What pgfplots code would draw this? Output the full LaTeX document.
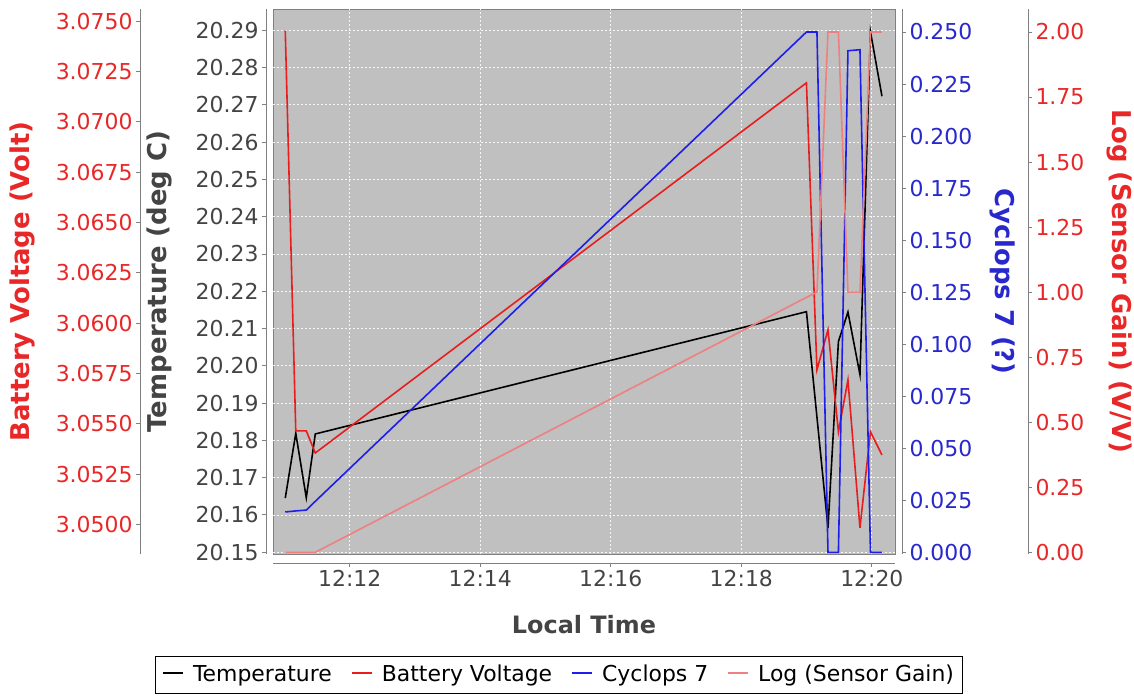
\documentclass[border=0pt]{standalone}
\usepackage{fontspec}
\setmainfont{DejaVu Sans}
\usepackage{pgfplots}
\pgfplotsset{compat=1.18}

\definecolor{plotbg}{RGB}{192,192,192}
\definecolor{axgray}{RGB}{128,128,128}
\definecolor{labgray}{RGB}{68,68,68}
\definecolor{batred}{RGB}{232,30,30}
\definecolor{cycblue}{RGB}{30,30,235}
\definecolor{logpink}{RGB}{238,128,128}
\definecolor{txtred}{RGB}{232,40,40}
\definecolor{txtblue}{RGB}{40,40,205}

\newcommand{\ylabfont}{\bfseries\fontsize{26}{29}\selectfont}
% legend key: a short coloured line
\newcommand{\leg}[1]{\textcolor{#1}{\rule[0.33em]{20bp}{1.5bp}}\hspace{10bp}}

\pgfplotsset{
  base/.style={
    scale only axis, width=622bp, height=545bp,
    at={(0,0)}, anchor=south west,
    xmin=10.824, xmax=20.355,
    scaled ticks=false,
    tick align=outside, major tick length=4bp,
    axis line style={draw=axgray, line width=0.8bp, -},
    every tick/.style={axgray, line width=0.8bp},
    tick label style={font=\fontsize{22}{24}\selectfont},
    label style={font=\bfseries\fontsize{24}{28}\selectfont},
    /pgf/number format/assume math mode=true,
    yticklabel style={/pgf/number format/fixed, /pgf/number format/zerofill,
                      /pgf/number format/1000 sep={}},
  },
  series/.style={line width=1.6bp},
}

\begin{document}
\begin{tikzpicture}
\useasboundingbox (-273bp,-142bp) rectangle (861bp,554bp);

% temperature (left, inner) -- also carries the time axis and the grey plot area
\begin{axis}[base,
  axis x line*=bottom, axis y line*=left,
  axis x line shift=9bp, axis y line shift=7bp,
  ymin=20.1495, ymax=20.2957,
  xtick={12,14,16,18,20},
  xticklabels={12:12,12:14,12:16,12:18,12:20},
  ytick={20.15,20.16,20.17,20.18,20.19,20.20,20.21,20.22,20.23,20.24,20.25,20.26,20.27,20.28,20.29},
  yticklabel style={/pgf/number format/precision=2},
  ticklabel style={text=labgray},
  grid=major,
  major grid style={white!85!plotbg, dash pattern=on 2bp off 2bp, line width=0.7bp},
  axis background/.style={fill=plotbg, draw=axgray, line width=0.8bp},
  xlabel={Local Time}, ylabel={Temperature (deg C)},
  xlabel style={at={(axis description cs:0.5,-0.130)}, anchor=center, text=labgray},
  every axis y label/.style={at={(axis description cs:-0.182,0.5)}, anchor=center, rotate=90,
    text=labgray, font=\ylabfont},
]
\addplot[series, black] coordinates {
  (11.012,20.1645) (11.173,20.1819) (11.334,20.1646) (11.472,20.1817)
  (18.998,20.2145) (19.159,20.1862) (19.328,20.1565) (19.488,20.2065)
  (19.634,20.2144) (19.818,20.1976) (19.979,20.2896) (20.155,20.2723)};
\end{axis}

% battery voltage (left, outer)
\begin{axis}[base,
  axis x line=none, axis y line*=left, axis y line shift=133bp,
  ymin=3.04853, ymax=3.07561,
  ytick={3.0500,3.0525,3.0550,3.0575,3.0600,3.0625,3.0650,3.0675,3.0700,3.0725,3.0750},
  yticklabel style={/pgf/number format/precision=4, text=txtred},
  ylabel={Battery Voltage (Volt)},
  every axis y label/.style={at={(axis description cs:-0.4035,0.5)}, anchor=center, rotate=90,
    text=txtred, font=\ylabfont},
]
\addplot[series, batred] coordinates {
  (11.012,3.07453) (11.173,3.05465) (11.334,3.05465) (11.472,3.05355)
  (18.998,3.07194) (19.159,3.05768) (19.328,3.05967) (19.488,3.05460)
  (19.634,3.05718) (19.818,3.04983) (19.979,3.05460) (20.155,3.05345)};
\end{axis}

% cyclops 7 (right, inner)
\begin{axis}[base,
  axis x line=none, axis y line*=right, axis y line shift=7bp,
  ymin=-0.0008, ymax=0.26106,
  ytick={0,0.025,0.05,0.075,0.1,0.125,0.15,0.175,0.2,0.225,0.25},
  yticklabel style={/pgf/number format/precision=3, text=txtblue},
  ylabel={Cyclops 7 (?)},
  every axis y label/.style={at={(axis description cs:1.1736,0.5)}, anchor=center, rotate=-90,
    text=txtblue, font=\ylabfont},
]
\addplot[series, cycblue] coordinates {
  (11.012,0.0194) (11.173,0.0199) (11.334,0.0203) (11.472,0.0245)
  (18.998,0.2500) (19.159,0.2500) (19.328,0.0000) (19.488,0.0000)
  (19.634,0.2410) (19.818,0.2415) (19.979,0.0000) (20.155,0.0000)};
\end{axis}

% log (sensor gain) (right, outer)
\begin{axis}[base,
  axis x line=none, axis y line*=right, axis y line shift=133bp,
  ymin=-0.0064, ymax=2.0885,
  ytick={0,0.25,0.5,0.75,1,1.25,1.5,1.75,2},
  yticklabel style={/pgf/number format/precision=2, text=txtred},
  ylabel={Log (Sensor Gain) (V/V)},
  every axis y label/.style={at={(axis description cs:1.3617,0.5)}, anchor=center, rotate=-90,
    text=txtred, font=\ylabfont},
]
\addplot[series, logpink] coordinates {
  (11.012,0) (11.173,0) (11.334,0) (11.472,0)
  (18.998,0.98) (19.159,1.00) (19.328,2.00) (19.488,2.00)
  (19.634,1.00) (19.818,1.00) (19.979,2.00) (20.155,2.00)};
\end{axis}

% legend box below the chart
\node[draw=black, line width=0.8bp, inner xsep=8bp, inner ysep=8bp, anchor=north,
      font=\fontsize{22}{26}\selectfont] at (285.5bp,-102bp)
  {\leg{black}Temperature\hspace{20bp}\leg{batred}Battery Voltage\hspace{20bp}%
   \leg{cycblue}Cyclops 7\hspace{20bp}\leg{logpink}Log (Sensor Gain)};
\end{tikzpicture}
\end{document}
